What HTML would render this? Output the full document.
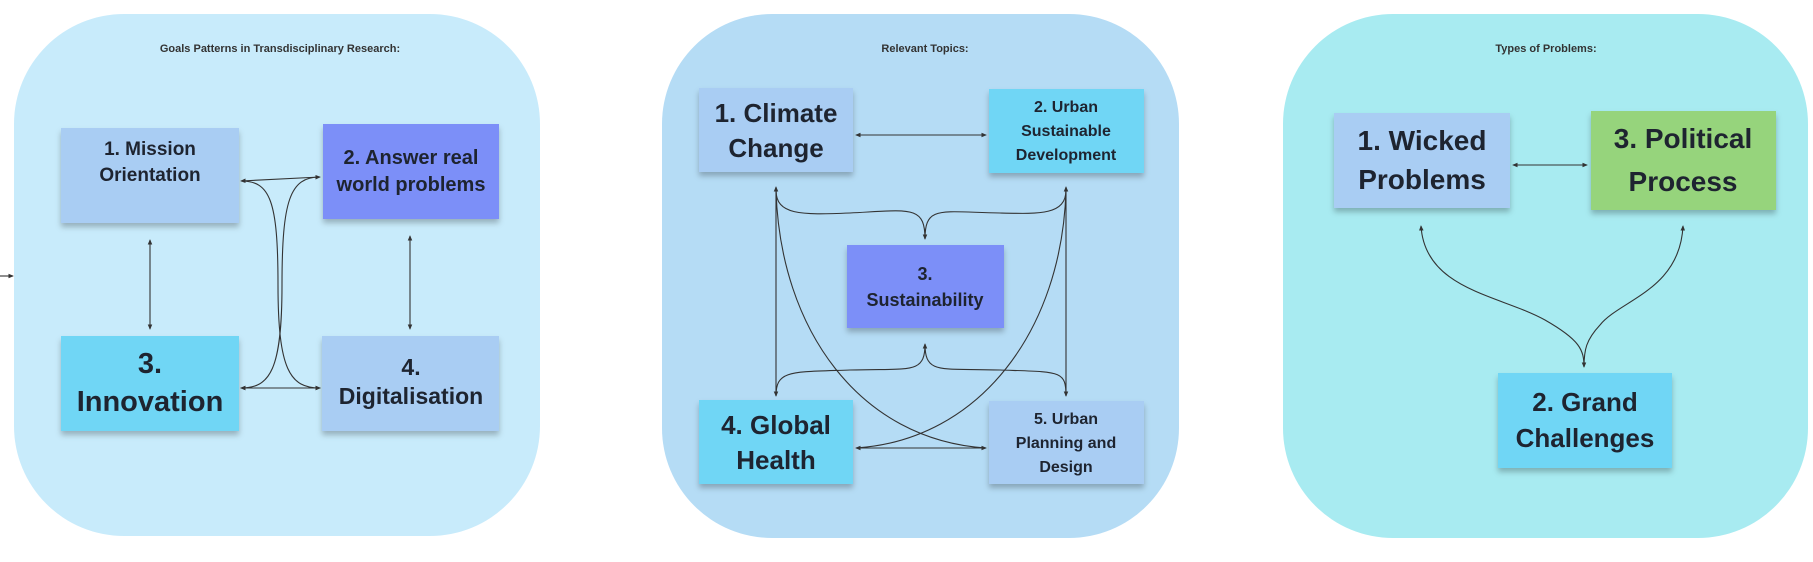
<!DOCTYPE html>
<html><head><meta charset="utf-8"><style>
html,body{margin:0;padding:0;background:#fff;}
svg{display:block}
text{font-family:"Liberation Sans",sans-serif;font-weight:bold;fill:#1e2430;text-anchor:middle}
.t{font-size:11px;fill:#333}
.l{stroke:#333;stroke-width:1.1;fill:none}
</style></head><body>
<svg width="1813" height="562" viewBox="0 0 1813 562" xmlns="http://www.w3.org/2000/svg">
<defs>
<marker id="a" viewBox="0 0 6 6" refX="5" refY="3" markerWidth="5" markerHeight="5" orient="auto-start-reverse"><path d="M0,0.5 L6,3 L0,5.5z" fill="#333"/></marker>
<filter id="sh" x="-10%" y="-10%" width="120%" height="130%"><feDropShadow dx="0" dy="4" stdDeviation="3" flood-color="#000" flood-opacity="0.25"/></filter>
</defs>
<rect x="14" y="14" width="526" height="522" rx="110" fill="#c8ebfb"/>
<rect x="662" y="14" width="517" height="524" rx="110" fill="#b5dcf5"/>
<rect x="1283" y="14" width="525" height="524" rx="110" fill="#a8ebf1"/>
<text class="t" x="280" y="52">Goals Patterns in Transdisciplinary Research:</text>
<text class="t" x="925" y="52">Relevant Topics:</text>
<text class="t" x="1546" y="52">Types of Problems:</text>
<line class="l" x1="0" y1="276" x2="13" y2="276" marker-end="url(#a)"/>

<g filter="url(#sh)">
<rect x="61" y="128" width="178" height="95" fill="#a9cdf3"/>
<rect x="323" y="124" width="176" height="95" fill="#7b8ff8"/>
<rect x="61" y="336" width="178" height="95" fill="#6fd6f5"/>
<rect x="322" y="336" width="177" height="95" fill="#a9cdf3"/>
</g>
<text x="150" y="155" font-size="19">1. Mission</text>
<text x="150" y="181" font-size="19">Orientation</text>
<text x="411" y="164" font-size="20">2. Answer real</text>
<text x="411" y="191" font-size="20">world problems</text>
<text x="150" y="373" font-size="29">3.</text>
<text x="150" y="411" font-size="29">Innovation</text>
<text x="411" y="375" font-size="23">4.</text>
<text x="411" y="404" font-size="23">Digitalisation</text>
<line class="l" x1="150" y1="240" x2="150" y2="329" marker-start="url(#a)" marker-end="url(#a)"/>
<line class="l" x1="410" y1="236" x2="410" y2="329" marker-start="url(#a)" marker-end="url(#a)"/>
<line class="l" x1="241" y1="181" x2="320" y2="177" marker-start="url(#a)" marker-end="url(#a)"/>
<line class="l" x1="241" y1="388" x2="320" y2="388" marker-start="url(#a)" marker-end="url(#a)"/>
<path class="l" d="M241,181 C270,181 278,200 278,285 C278,370 290,388 320,388" marker-end="url(#a)"/>
<path class="l" d="M320,177 C290,177 282,200 282,285 C282,370 270,388 241,388" marker-end="url(#a)"/>

<g filter="url(#sh)">
<rect x="699" y="88" width="154" height="84" fill="#a9cdf3"/>
<rect x="989" y="89" width="155" height="84" fill="#6fd6f5"/>
<rect x="847" y="245" width="157" height="83" fill="#7b8ff8"/>
<rect x="699" y="400" width="154" height="84" fill="#6fd6f5"/>
<rect x="989" y="401" width="155" height="83" fill="#a9cdf3"/>
</g>
<text x="776" y="122" font-size="26">1. Climate</text>
<text x="776" y="157" font-size="26">Change</text>
<text x="1066" y="112" font-size="16">2. Urban</text>
<text x="1066" y="136" font-size="16">Sustainable</text>
<text x="1066" y="160" font-size="16">Development</text>
<text x="925" y="280" font-size="18">3.</text>
<text x="925" y="306" font-size="18">Sustainability</text>
<text x="776" y="434" font-size="26">4. Global</text>
<text x="776" y="469" font-size="26">Health</text>
<text x="1066" y="424" font-size="16">5. Urban</text>
<text x="1066" y="448" font-size="16">Planning and</text>
<text x="1066" y="472" font-size="16">Design</text>
<line class="l" x1="856" y1="135" x2="986" y2="135" marker-start="url(#a)" marker-end="url(#a)"/>
<line class="l" x1="856" y1="448" x2="986" y2="448" marker-start="url(#a)" marker-end="url(#a)"/>
<line class="l" x1="776" y1="187" x2="776" y2="396" marker-start="url(#a)" marker-end="url(#a)"/>
<line class="l" x1="1066" y1="187" x2="1066" y2="396" marker-start="url(#a)" marker-end="url(#a)"/>
<path class="l" d="M776,190 C776,215 800,215 850,213 C910,210 925,205 925,239" marker-end="url(#a)"/>
<path class="l" d="M1066,190 C1066,215 1040,214 1000,213 C940,212 925,205 925,239"/>
<path class="l" d="M925,344 C925,375 910,368 850,370 C790,372 776,370 776,396" marker-start="url(#a)"/>
<path class="l" d="M925,344 C925,375 940,368 1000,370 C1060,372 1066,370 1066,396"/>
<path class="l" d="M776,190 C780,330 860,440 986,448"/>
<path class="l" d="M1066,190 C1062,330 980,440 856,448"/>

<g filter="url(#sh)">
<rect x="1334" y="113" width="176" height="95" fill="#a9cdf3"/>
<rect x="1591" y="111" width="185" height="99" fill="#96d47c"/>
<rect x="1498" y="373" width="174" height="95" fill="#6fd6f5"/>
</g>
<text x="1422" y="150" font-size="28">1. Wicked</text>
<text x="1422" y="189" font-size="28">Problems</text>
<text x="1683" y="148" font-size="28">3. Political</text>
<text x="1683" y="191" font-size="28">Process</text>
<text x="1585" y="411" font-size="26">2. Grand</text>
<text x="1585" y="447" font-size="26">Challenges</text>
<line class="l" x1="1513" y1="165" x2="1587" y2="165" marker-start="url(#a)" marker-end="url(#a)"/>
<path class="l" d="M1421,226 C1425,290 1500,295 1545,320 C1580,340 1584,350 1584,367" marker-start="url(#a)" marker-end="url(#a)"/>
<path class="l" d="M1683,226 C1680,290 1620,300 1600,325 C1586,340 1584,350 1584,367" marker-start="url(#a)"/>
</svg>
</body></html>
